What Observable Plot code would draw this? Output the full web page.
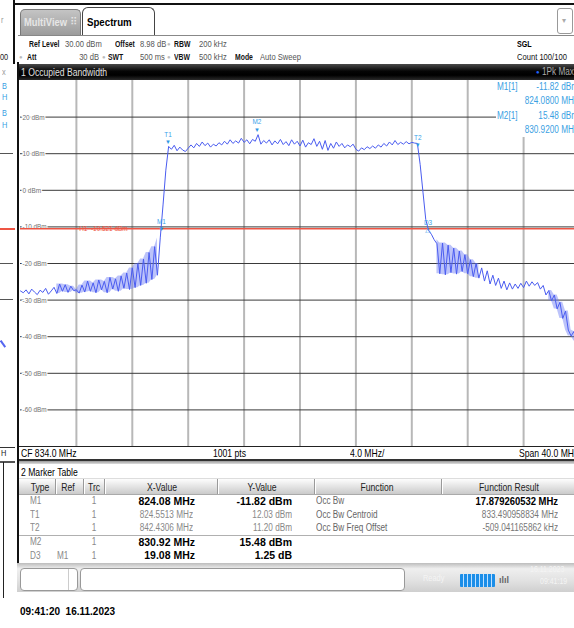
<!DOCTYPE html>
<html><head><meta charset="utf-8">
<script src="https://cdn.jsdelivr.net/npm/d3@7"></script>
<script src="https://cdn.jsdelivr.net/npm/@observablehq/plot@0.6"></script>
<style>
body{margin:0;width:574px;height:628px;overflow:hidden;background:#fff;position:relative;font-family:"Liberation Sans","DejaVu Sans",sans-serif;}
.a{position:absolute;white-space:pre;}
</style></head><body>
<script>
// ---------- data ----------
const freqStart = 814.0;   // MHz (CF 834.0, span 40.0)
const freqStep = 0.2;      // MHz per plotted point
const levels = [
 -27.5,-28.0,-27.2,-28.3,-27.0,-27.8,-28.5,-27.3,-27.9,-26.8,
 -28.4,-27.5,-26.5,-28.2,-25.6,-27.6,-25.8,-27.9,-26.2,-27.4,
 -27.2,-28.1,-25.9,-27.8,-24.8,-27.6,-25.3,-28.0,-24.5,-27.2,
 -24.9,-28.0,-23.8,-27.0,-24.2,-27.6,-23.4,-26.8,-22.6,-27.1,
 -21.2,-26.6,-20.0,-26.0,-18.8,-25.4,-17.0,-24.4,-15.4,-23.2,
 -13.0,-4.0,5.5,
 12.0,11.2,12.3,10.8,11.8,11.0,10.6,11.5,12.4,11.6,
 12.8,12.0,13.2,12.2,12.9,11.8,12.6,12.1,13.0,12.4,
 13.4,12.6,13.8,12.8,13.5,12.9,14.2,13.1,13.8,12.7,
 13.9,13.4,15.2,12.6,13.6,12.9,13.8,12.4,13.5,12.7,
 13.9,12.5,13.3,12.2,13.8,12.6,13.4,12.1,13.7,11.8,
 13.0,12.5,14.1,12.0,13.4,11.2,13.6,10.9,12.8,11.5,
 13.2,12.0,12.8,11.6,12.4,11.9,12.6,11.2,10.7,11.6,
 11.1,11.9,11.4,12.1,11.5,12.4,11.8,12.8,12.1,13.2,
 12.4,13.6,12.5,13.1,12.6,13.3,12.7,13.1,12.9,12.8,
 7.0,-0.5,-8.0,-11.0,-12.0,-13.5,-14.6,-22.8,-14.4,-23.1,
 -15.0,-22.5,-15.8,-22.9,-16.6,-22.2,-17.6,-22.8,-19.0,-23.6,
 -20.0,-24.0,-21.2,-24.8,-22.0,-25.6,-23.2,-26.0,-24.0,-26.8,
 -24.8,-27.2,-25.3,-27.0,-25.6,-26.8,-25.4,-26.6,-24.8,-26.2,
 -25.0,-26.0,-25.2,-27.0,-26.0,-28.6,-27.4,-30.2,-28.6,-32.4,
 -30.6,-35.0,-33.0,-38.2,-39.8,-38.6,-41.2,-40.4
];
// frequency ranges where the max-hold trace is densely hatched
const hatchStart = [816.6, 843.7, 851.8];
const hatchEnd   = [823.9, 846.9, 853.9];
const vGridFreqs = [818, 822, 826, 830, 834, 838, 842, 846, 850];
const hGridLevels = [20, 10, 0, -10, -20, -30, -40, -50, -60];
const yTickLabels = ["20 dBm","10 dBm","0 dBm","-10 dBm","-20 dBm","-30 dBm","-40 dBm","-50 dBm","-60 dBm"];
const h1Level = -10.521;
const h1Text = "H1  -10.521 dBm";
const markerNames = ["M1","T1","T2","M2","D3"];
const markerFreqs = [824.08, 824.5513, 842.4306, 830.92, 843.16];
const markerLevels = [-11.82, 12.03, 11.20, 15.48, -10.57];

const tblType = ["M1","T1","T2","M2","D3"];
const tblRef  = ["","","","","M1"];
const tblTrc  = ["1","1","1","1","1"];
const tblX    = ["824.08 MHz","824.5513 MHz","842.4306 MHz","830.92 MHz","19.08 MHz"];
const tblY    = ["-11.82 dBm","12.03 dBm","11.20 dBm","15.48 dBm","1.25 dB"];
const tblBold = [true,false,false,true,true];
const funcNames   = ["Occ Bw","Occ Bw Centroid","Occ Bw Freq Offset"];
const funcResults = ["17.879260532 MHz","833.490958834 MHz","-509.041165862 kHz"];

// ---------- helpers ----------
function box(x,y,w,h,st){const d=document.createElement('div');d.className='a';Object.assign(d.style,{left:x+'px',top:y+'px',width:w+'px',height:h+'px'},st||{});document.body.appendChild(d);return d;}
function txt(x,y,s,o={}){const size=o.size||10;const d=document.createElement('div');d.className='a';d.textContent=s;
 d.style.fontSize=size+'px';d.style.lineHeight=size+'px';d.style.top=(y-size/2)+'px';d.style.color=o.color||'#000';
 if(o.bold)d.style.fontWeight='bold';
 const sx = o.sx===undefined?0.82:o.sx;
 let origin='left center';
 if(o.anchor==='end'){d.style.left=(x-400)+'px';d.style.width='400px';d.style.textAlign='right';origin='right center';}
 else if(o.anchor==='middle'){d.style.left=(x-200)+'px';d.style.width='400px';d.style.textAlign='center';origin='center center';}
 else d.style.left=x+'px';
 if(sx!==1){d.style.transform='scaleX('+sx+')';d.style.transformOrigin=origin;}
 document.body.appendChild(d);return d;}

// ---------- background window fragments (left strip) ----------
box(13,0,1.5,64,{background:'#111'});
txt(1,20,'r',{size:9,color:'#999'});
txt(0,57,'00',{size:9,color:'#222'});
txt(2,72,'x',{size:9,color:'#999'});
txt(2,86,'B',{size:9,color:'#3b9fe3'});txt(2,97,'H',{size:9,color:'#3b9fe3'});
txt(2,113,'B',{size:9,color:'#3b9fe3'});txt(2,125,'H',{size:9,color:'#3b9fe3'});
box(0,153,13,1,{background:'#555'});
box(0,228,15,1.5,{background:'#ee5544'});
box(0,263,13,1,{background:'#555'});
box(0,299,13,1,{background:'#555'});
box(2,340,1.5,8,{background:'#5566f0',transform:'rotate(-35deg)'});
box(0,447,15,1,{background:'#333'});
txt(1,453,'H',{size:9,color:'#222'});
box(0,461,15,1.5,{background:'#555'});
box(2.5,462,1,136,{background:'#222'});

// ---------- top chrome ----------
box(13,3,561,1.5,{background:'#111'});
box(20,9,61,26,{background:'linear-gradient(#c4c4c4,#9c9c9c)',border:'1px solid #777',borderBottom:'none',borderRadius:'5px 5px 0 0',boxSizing:'border-box'});
txt(24,22,'MultiView',{size:11,bold:true,color:'#e6e6e6',sx:0.85});
txt(70,22,'⠿',{size:10,color:'#e6e6e6',sx:1});
box(82,7,73,29,{background:'#fff',border:'1px solid #444',borderBottom:'none',borderRadius:'6px 6px 0 0',boxSizing:'border-box'});
txt(87,22,'Spectrum',{size:11,bold:true,sx:0.88});
box(18,35,556,1,{background:'#888'});
box(557,8,16,26,{border:'1px solid #999',borderRadius:'3px',boxSizing:'border-box',background:'#fff'});
txt(562,21,'▾',{size:8,color:'#aaa',sx:1});

// header parameters
const G='#555', L='#111', hs=9.5;
const hp={size:hs,sx:0.72,color:L,bold:true}, hv={size:hs,sx:0.8,color:G};
txt(29,44,'Ref Level',hp);txt(65,44,'30.00 dBm',hv);
txt(115,44,'Offset',hp);txt(140,44,'8.98 dB',hv);
txt(167,44,'●',{size:6,color:'#bbb',sx:1});txt(174,44,'RBW',hp);txt(199,44,'200 kHz',hv);
txt(19,57,'●',{size:6,color:'#bbb',sx:1});txt(27,57,'Att',hp);txt(99,57,'30 dB',Object.assign({anchor:'end'},hv));
txt(102,57,'●',{size:6,color:'#bbb',sx:1});txt(108,57,'SWT',hp);txt(140,57,'500 ms',hv);
txt(167,57,'●',{size:6,color:'#bbb',sx:1});txt(174,57,'VBW',hp);txt(199,57,'500 kHz',hv);
txt(235,57,'Mode',hp);txt(260,57,'Auto Sweep',hv);
txt(517,44,'SGL',{size:hs,sx:0.75,color:'#000',bold:true});
txt(517,57,'Count 100/100',{size:hs,sx:0.8,color:'#111'});

// title bar
box(19,64,555,16,{background:'linear-gradient(#4a4a4a,#050505 45%,#000 70%,#2a2a2a)'});
txt(21,72,'1 Occupied Bandwidth',{size:10.5,color:'#e0e0e0'});
txt(536,72,'●',{size:6,color:'#2266ff',sx:1});
txt(542,72,'1Pk Max',{size:10,color:'#aaa'});

// frame lines
box(17,62,2,530,{background:'#111'});

// ---------- plot ----------
const trace = levels.map((v,i)=>({f: freqStart + i*freqStep, v}));
const band = [];
trace.forEach((d,i)=>{
  const seg = hatchStart.findIndex((s,k)=>d.f>=s && d.f<=hatchEnd[k]);
  if(seg<0) return;
  const w = levels.slice(Math.max(0,i-1), i+2);
  band.push({f:d.f, lo:Math.min(...w), hi:Math.max(...w), seg});
});
const markers = markerNames.map((n,i)=>({n, f: markerFreqs[i], v: markerLevels[i]}));
const hGrid = hGridLevels.map((v,i)=>({v, label: yTickLabels[i]}));
const mc = '#2f98e4';
const isD3 = d => d.n === 'D3';

const chart = Plot.plot({
  width: 559, height: 366, margin: 0,
  x: {domain: [814, 854], axis: null},
  y: {domain: [-70, 30], axis: null},
  style: {background: 'white', fontFamily: '"Liberation Sans","DejaVu Sans",sans-serif'},
  marks: [
    Plot.ruleX(vGridFreqs, {stroke: '#b8b8b8', strokeWidth: 2}),
    Plot.ruleY(hGrid, {y: 'v', stroke: '#3a3a3a', strokeWidth: 1}),
    Plot.text(hGrid, {x: () => 814, y: 'v', text: 'label', textAnchor: 'start', dx: 2, fontSize: 8, fill: '#707070', stroke: 'white', strokeWidth: 3}),
    Plot.ruleY([h1Level], {stroke: '#ee5544', strokeWidth: 1.5}),
    Plot.text([h1Level], {x: () => 818.2, y: d => d, text: () => h1Text, textAnchor: 'start', fontSize: 8, fill: '#ee5544'}),
    Plot.areaY(band, {x: 'f', y1: 'lo', y2: 'hi', z: 'seg', fill: '#6b79f4', fillOpacity: 0.45}),
    Plot.line(trace, {x: 'f', y: 'v', stroke: '#4a5cf0', strokeWidth: 1}),
    Plot.text(markers.filter(d => !isD3(d)), {x: 'f', y: 'v', text: () => '▼', fontSize: 6, dy: -4, fill: mc}),
    Plot.text(markers.filter(isD3), {x: 'f', y: 'v', text: () => '△', fontSize: 7, dy: 1, fill: mc}),
    Plot.text(markers.filter(d => !isD3(d)), {x: 'f', y: 'v', text: 'n', fontSize: 8, dy: -12, fill: '#3aa2ea'}),
    Plot.text(markers.filter(isD3), {x: 'f', y: 'v', text: 'n', fontSize: 8, dy: -7, fill: '#3aa2ea'})
  ]
});
const holder = box(20,80,559,366,{});
holder.appendChild(chart);
chart.style.display='block';
// condense the svg labels like the instrument font
chart.querySelectorAll('text').forEach(t=>{
  const len = t.getComputedTextLength();
  if(len>8){t.setAttribute('textLength', (len*0.8).toFixed(1)); t.setAttribute('lengthAdjust','spacingAndGlyphs');}
});

// marker readout (top right, covers grid)
box(496,80,80,57,{background:'#fff'});
const rc='#3b9fe3';
txt(497,87,'M1[1]',{color:rc});txt(578,87,'-11.82 dBm',{color:rc,anchor:'end'});
txt(578,101,'824.0800 MHz',{color:rc,anchor:'end'});
txt(497,116,'M2[1]',{color:rc});txt(578,116,'15.48 dBm',{color:rc,anchor:'end'});
txt(578,130,'830.9200 MHz',{color:rc,anchor:'end'});

// CF / span bar
box(19,446,556,15,{background:'#fff',borderTop:'1.5px solid #222',borderBottom:'2px solid #333',boxSizing:'border-box'});
txt(21,453,'CF 834.0 MHz',{size:10.5});
txt(213,453,'1001 pts',{size:10.5});
txt(350,453,'4.0 MHz/',{size:10.5});
txt(519,453,'Span 40.0 MHz',{size:10.5});

// ---------- marker table ----------
box(19,461,555,3,{background:'linear-gradient(#999,#ddd)'});
txt(21,472,'2 Marker Table',{size:10.5});
box(19,478,555,17,{background:'linear-gradient(#fdfdfd,#e4e4e4 50%,#cacaca)',borderTop:'1px solid #ddd',borderBottom:'1px solid #aaa',boxSizing:'border-box'});
[55,83,104,217,314,441].forEach(x=>box(x,479,1,15,{background:'#9a9a9a',borderRight:'1px solid #fff'}));
const hdr=[['Type',40],['Ref',68],['Trc',94],['X-Value',162],['Y-Value',262],['Function',377],['Function Result',509]];
hdr.forEach(([s,x])=>txt(x,487,s,{size:10.5,anchor:'middle',color:'#222'}));
const rowY=[501,514.5,528,542,555.5];
tblType.forEach((t,i)=>{
  const y=rowY[i];
  txt(30,y,t,{size:10,color:'#888'});
  if(tblRef[i]) txt(57,y,tblRef[i],{size:10,color:'#888'});
  txt(94,y,tblTrc[i],{size:10,color:'#888',anchor:'middle'});
  if(tblBold[i]){txt(195,y,tblX[i],{size:10.5,bold:true,anchor:'end',sx:1});txt(292,y,tblY[i],{size:10.5,bold:true,anchor:'end',sx:1});}
  else{txt(193,y,tblX[i],{size:10,color:'#888',anchor:'end'});txt(292,y,tblY[i],{size:10,color:'#888',anchor:'end'});}
});
funcNames.forEach((f,i)=>{
  txt(316,rowY[i],f,{size:10,color:'#666'});
  if(i===0) txt(558,rowY[i],funcResults[i],{size:10.5,bold:true,anchor:'end',sx:0.9});
  else txt(558,rowY[i],funcResults[i],{size:10,color:'#777',anchor:'end'});
});
box(19,535,555,1,{background:'#b0b0b0'});

// ---------- bottom bar ----------
box(17,563,557,29,{background:'linear-gradient(#bdbdbd,#efefef 20%,#e2e2e2 60%,#cfcfcf)'});
box(20,568,58,23,{background:'#fff',border:'1px solid #999',borderRadius:'4px',boxSizing:'border-box'});
box(68,569,1,21,{background:'#ccc'});
box(80,568,325,23,{background:'#fff',border:'1px solid #999',borderRadius:'4px',boxSizing:'border-box'});
txt(423,578,'Ready',{size:9,color:'#f4f4f4'});
box(460,574,35,13,{background:'repeating-linear-gradient(90deg,#1b8ee8 0 3px,#bfe0ff 3px 4px)',borderRadius:'1px'});
txt(499,580,'ılıl',{size:9,bold:true,color:'#666',sx:1});
txt(530,569,'16.11.2023',{size:8.5,color:'#f4f4f4'});
txt(540,581,'09:41:19',{size:8.5,color:'#f4f4f4'});

// timestamp
txt(20,612,'09:41:20  16.11.2023',{size:10,bold:true,sx:1});
</script>
</body></html>
